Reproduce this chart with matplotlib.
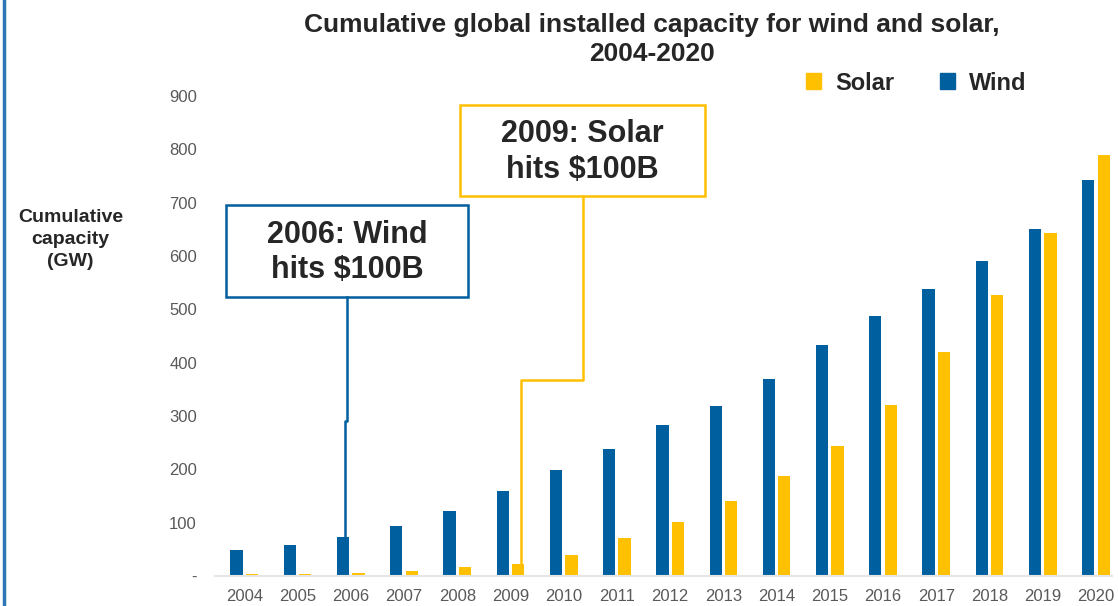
import matplotlib
matplotlib.use("Agg")
import matplotlib.pyplot as plt
from matplotlib.patches import Rectangle, Patch
from matplotlib.lines import Line2D
import numpy as np

plt.rcParams['font.family'] = ['Liberation Sans', 'DejaVu Sans']

years = [str(y) for y in range(2004, 2021)]
wind = [48, 59, 74, 94, 121, 160, 198, 238, 283, 318, 370, 433, 487, 539, 591, 651, 743]
solar = [3, 4, 6, 9, 16, 23, 40, 71, 101, 140, 188, 244, 320, 420, 527, 643, 790]
yticks = [0, 100, 200, 300, 400, 500, 600, 700, 800, 900]

wind_col = '#005F9E'
solar_col = '#FFC000'
text_col = '#262626'
tick_col = '#595959'

fig = plt.figure(figsize=(11.18, 6.06), dpi=100)
ax = fig.add_axes([0.1923, 0.0495, 0.8023, 0.7921])

x = np.arange(len(years))
w = 0.23
ax.bar(x - 0.145, wind, w, color=wind_col, label='Wind')
ax.bar(x + 0.145, solar, w, color=solar_col, label='Solar')

ax.set_xlim(-0.55, 16.3)
ax.set_ylim(0, 900)
ax.set_xticks(x)
ax.set_xticklabels(years, fontsize=12, color=tick_col)
ax.set_yticks(yticks)
ax.set_yticklabels(['-'] + [str(v) for v in yticks[1:]], fontsize=12, color=tick_col)
ax.tick_params(length=0)
ax.tick_params(axis='x', pad=9)
ax.tick_params(axis='y', pad=13)
for s in ['top', 'right', 'left']:
    ax.spines[s].set_visible(False)
ax.spines['bottom'].set_color('#E6E6E6')
ax.spines['bottom'].set_linewidth(1.5)

# callout: wind 2006
i_w = years.index('2006')
ax.add_patch(Rectangle((-0.34, 523), 4.55, 173, fill=False, edgecolor=wind_col,
                       lw=1.8, clip_on=False, zorder=5))
ax.text(1.935, 607, '2006: Wind\nhits $100B', ha='center', va='center',
        fontsize=22, fontweight='bold', color=text_col, linespacing=1.22)
ax.plot([i_w - 0.07, i_w - 0.07, i_w - 0.1, i_w - 0.1], [523, 290, 290, wind[i_w]],
        color=wind_col, lw=1.8, clip_on=False)

# callout: solar 2009
i_s = years.index('2009')
ax.add_patch(Rectangle((4.06, 712), 4.59, 172, fill=False, edgecolor=solar_col,
                       lw=1.8, clip_on=False, zorder=5))
ax.text(6.355, 795, '2009: Solar\nhits $100B', ha='center', va='center',
        fontsize=22, fontweight='bold', color=text_col, linespacing=1.22)
ax.plot([6.37, 6.37, i_s + 0.2, i_s + 0.2], [712, 368, 368, solar[i_s]],
        color=solar_col, lw=1.8, clip_on=False)

fig.text(0.583, 0.935, 'Cumulative global installed capacity for wind and solar,\n2004-2020',
         ha='center', va='center', fontsize=19, fontweight='bold', color=text_col,
         linespacing=1.25)
fig.text(0.063, 0.605, 'Cumulative\ncapacity\n(GW)', ha='center', va='center',
         fontsize=14, fontweight='bold', color=text_col, linespacing=1.4)

handles = [Patch(color=solar_col, label='Solar'), Patch(color=wind_col, label='Wind')]
leg = fig.legend(handles=handles, loc='center left', bbox_to_anchor=(0.721, 0.863),
                 ncol=2, frameon=False, handlelength=0.65, handleheight=0.65,
                 handletextpad=0.6, columnspacing=1.9, borderpad=0, borderaxespad=0,
                 prop={'size': 17, 'weight': 'bold'})
for t in leg.get_texts():
    t.set_color(text_col)

fig.add_artist(Line2D([0.004, 0.004], [0, 1], color='#2E75B6', lw=2.5))

fig.savefig('out.png', dpi=100)
